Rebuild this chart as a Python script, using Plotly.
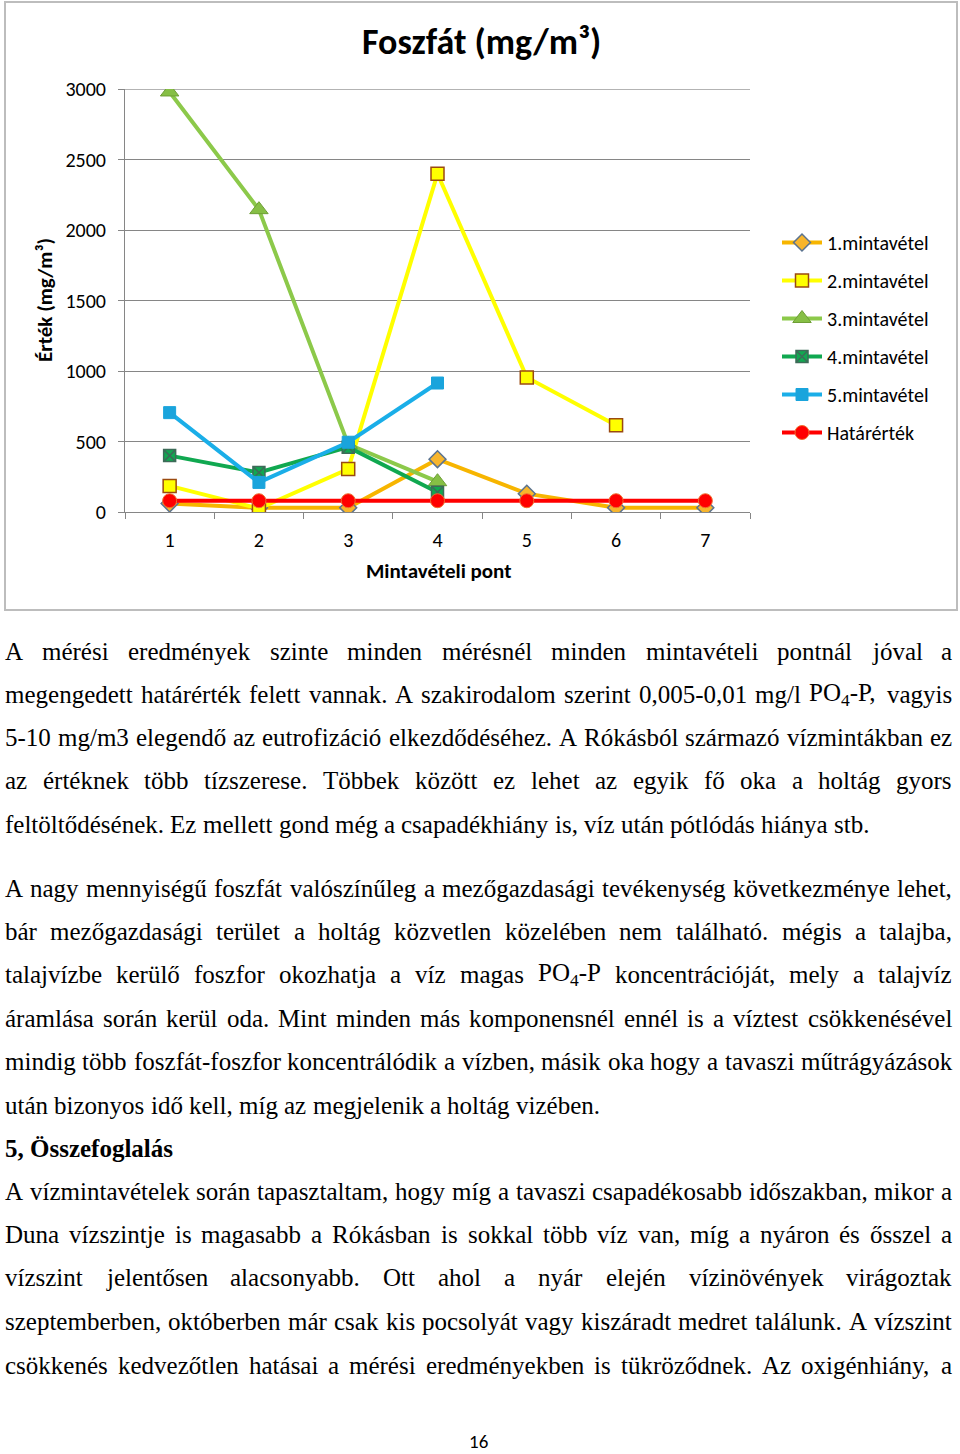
import plotly.graph_objects as go

# ---------------- data ----------------
categories = ["1", "2", "3", "4", "5", "6", "7"]
s1 = [60, 30, 30, 375, 130, 30, 30]
s2 = [185, 25, 305, 2400, 955, 615, None]
s3 = [2980, 2145, 480, 215, None, None, None]
s4 = [400, 280, 460, 140, None, None, None]
s5 = [705, 210, 495, 915, None, None, None]
limit = [80, 80, 80, 80, 80, 80, 80]
series_names = ["1.mintavétel", "2.mintavétel", "3.mintavétel",
                "4.mintavétel", "5.mintavétel", "Határérték"]
y_ticks = [0, 500, 1000, 1500, 2000, 2500, 3000]

title_text = "Foszfát (mg/m³)"
y_title = "Érték (mg/m³)"
x_title = "Mintavételi pont"

para1 = [
    ("A mérési eredmények szinte minden mérésnél minden mintavételi pontnál jóval a", True),
    ("megengedett határérték felett vannak. A szakirodalom szerint 0,005-0,01 mg/l PO<sub>4</sub>-P, vagyis", True),
    ("5-10 mg/m3 elegendő az eutrofizáció elkezdődéséhez. A Rókásból származó vízmintákban ez", True),
    ("az értéknek több tízszerese. Többek között ez lehet az egyik fő oka a holtág gyors", True),
    ("feltöltődésének. Ez mellett gond még a csapadékhiány is, víz után pótlódás hiánya stb.", False),
]
para2 = [
    ("A nagy mennyiségű foszfát valószínűleg a mezőgazdasági tevékenység következménye lehet,", True),
    ("bár mezőgazdasági terület a holtág közvetlen közelében nem található. mégis a talajba,", True),
    ("talajvízbe kerülő foszfor okozhatja a víz magas PO<sub>4</sub>-P koncentrációját, mely a talajvíz", True),
    ("áramlása során kerül oda. Mint minden más komponensnél ennél is a víztest csökkenésével", True),
    ("mindig több foszfát-foszfor koncentrálódik a vízben, másik oka hogy a tavaszi műtrágyázások", True),
    ("után bizonyos idő kell, míg az megjelenik a holtág vizében.", False),
]
heading = "5, Összefoglalás"
para3 = [
    ("A vízmintavételek során tapasztaltam, hogy míg a tavaszi csapadékosabb időszakban, mikor a", True),
    ("Duna vízszintje is magasabb a Rókásban is sokkal több víz van, míg a nyáron és ősszel a", True),
    ("vízszint jelentősen alacsonyabb. Ott ahol a nyár elején vízinövények virágoztak", True),
    ("szeptemberben, októberben már csak kis pocsolyát vagy kiszáradt medret találunk. A vízszint", True),
    ("csökkenés kedvezőtlen hatásai a mérési eredményekben is tükröződnek. Az oxigénhiány, a", True),
]
page_number = "16"

# ---------------- page geometry ----------------
W, H = 960, 1454
ML, MR, MT, MB = 125, 210, 89, 942
PW = W - ML - MR
PH = H - MT - MB


def px_x(px):
    return (px - ML) / PW


def px_y(py):
    return (H - MB - py) / PH


# ---------------- figure ----------------
fig = go.Figure()

styles = [
    dict(line=dict(color="#F7B500", width=4),
         marker=dict(symbol="diamond", size=13, color="#F7B52C",
                     line=dict(color="#5A7390", width=1.5))),
    dict(line=dict(color="#FFFF00", width=4),
         marker=dict(symbol="square", size=13, color="#FFFF00",
                     line=dict(color="#9A4A10", width=1.5))),
    dict(line=dict(color="#8CC94A", width=4),
         marker=dict(symbol="triangle-up", size=16, color="#86BF45",
                     line=dict(color="#6E9E35", width=1))),
    dict(line=dict(color="#10A850", width=4),
         marker=dict(symbol="square-x", size=12, color="#10A850",
                     line=dict(color="#3D6B58", width=1.5))),
    dict(line=dict(color="#1AAEE8", width=4),
         marker=dict(symbol="square", size=12, color="#1AA4DC",
                     line=dict(color="#1AA4DC", width=1))),
    dict(line=dict(color="#FF0000", width=4),
         marker=dict(symbol="circle", size=14, color="#FF0000",
                     line=dict(color="#F07030", width=1))),
]

for i, (name, vals) in enumerate(zip(series_names, [s1, s2, s3, s4, s5, limit])):
    fig.add_trace(go.Scatter(
        x=categories, y=vals, name=name, mode="lines+markers",
        legendgroup="g%d" % i, connectgaps=False, **styles[i]))

chart_font = "Carlito, Lato, sans-serif"
serif = "Liberation Serif, Times New Roman, serif"

fig.update_layout(
    width=W, height=H, autosize=False,
    margin=dict(l=ML, r=MR, t=MT, b=MB, pad=0),
    paper_bgcolor="white", plot_bgcolor="white",
    showlegend=True,
    legend=dict(x=px_x(777), y=px_y(223), xanchor="left", yanchor="top",
                font=dict(family=chart_font, size=20, color="#000000"),
                tracegroupgap=9, bgcolor="rgba(0,0,0,0)", itemwidth=40),
    xaxis=dict(type="category", categoryorder="array", categoryarray=categories,
               tickson="boundaries", ticks="outside", ticklen=6, tickcolor="#868686",
               showline=True, linecolor="#868686", linewidth=1, showgrid=False,
               tickfont=dict(family=chart_font, size=20, color="#000000"),
               ticklabelstandoff=10, range=[-0.5, 6.5], fixedrange=True),
    yaxis=dict(range=[0, 3001], tickvals=y_ticks, ticks="outside", ticklen=6,
               tickcolor="#868686", showline=True, linecolor="#868686", linewidth=1,
               showgrid=True, gridcolor="#868686", gridwidth=1, zeroline=False,
               tickfont=dict(family=chart_font, size=20, color="#000000"),
               ticklabelstandoff=8, fixedrange=True),
)

# top gridline (range edge) and chart frame
fig.add_shape(type="line", xref="paper", yref="y", x0=0, x1=1,
              y0=y_ticks[-1], y1=y_ticks[-1],
              line=dict(color="#868686", width=1), layer="below")
fig.add_shape(type="rect", xref="paper", yref="paper",
              x0=px_x(5), x1=px_x(957), y0=px_y(610), y1=px_y(2),
              line=dict(color="#BDBDBD", width=2), fillcolor="rgba(0,0,0,0)",
              layer="below")

ann = []
ann.append(dict(text="<b>%s</b>" % title_text, x=px_x(481), y=px_y(42),
                font=dict(family=chart_font, size=36, color="#000000")))
ann.append(dict(text="<b>%s</b>" % y_title, x=px_x(45), y=px_y(300), textangle=-90,
                font=dict(family=chart_font, size=21, color="#000000")))
ann.append(dict(text="<b>%s</b>" % x_title, x=px_x(438), y=px_y(571),
                font=dict(family=chart_font, size=21, color="#000000")))

# ---------------- body text (justified) ----------------
TW = {' ': 250, ',': 250, '-': 333, '.': 250, '/': 278, ':': 278,
      'A': 722, 'B': 667, 'C': 667, 'D': 722, 'E': 611, 'F': 556, 'G': 722, 'H': 722,
      'I': 333, 'J': 389, 'K': 722, 'L': 611, 'M': 889, 'N': 722, 'O': 722, 'P': 556,
      'Q': 722, 'R': 667, 'S': 556, 'T': 611, 'U': 722, 'V': 722, 'W': 944, 'X': 722,
      'Y': 722, 'Z': 611,
      'a': 444, 'b': 500, 'c': 444, 'd': 500, 'e': 444, 'f': 333, 'g': 500, 'h': 500,
      'i': 278, 'j': 278, 'k': 500, 'l': 278, 'm': 778, 'n': 500, 'o': 500, 'p': 500,
      'q': 500, 'r': 333, 's': 389, 't': 278, 'u': 500, 'v': 500, 'w': 722, 'x': 500,
      'y': 500, 'z': 444}
ACC = {'á': 'a', 'é': 'e', 'í': 'i', 'ó': 'o', 'ö': 'o', 'ő': 'o', 'ú': 'u', 'ü': 'u',
       'ű': 'u', 'Á': 'A', 'É': 'E', 'Í': 'I', 'Ó': 'O', 'Ö': 'O', 'Ő': 'O', 'Ú': 'U',
       'Ü': 'U', 'Ű': 'U'}


def word_units(word):
    total = 0.0
    sub = False
    i = 0
    while i < len(word):
        if word.startswith("<sub>", i):
            sub = True
            i += 5
            continue
        if word.startswith("</sub>", i):
            sub = False
            i += 6
            continue
        ch = ACC.get(word[i], word[i])
        w = 500 if ch.isdigit() else TW.get(ch, 500)
        total += w * (0.7 if sub else 1.0)
        i += 1
    return total


LEFT, RIGHT = 5, 952
all_lines = para1 + para2 + para3
fits = []
for txt, just in all_lines:
    words = txt.split(" ")
    units = sum(word_units(w) for w in words) + 250 * (len(words) - 1)
    fits.append((RIGHT - LEFT) * 1000.0 / units)
FS = min(25.0, min(fits))

body_rows = ([(l, 651 + k * 43.3) for k, l in enumerate(para1)] +
             [(l, 888 + k * 43.4) for k, l in enumerate(para2)] +
             [(l, 1191 + k * 43.5) for k, l in enumerate(para3)])

for (txt, just), yc in body_rows:
    words = txt.split(" ")
    widths = [word_units(w) * FS / 1000.0 for w in words]
    if just and len(words) > 1:
        gap = (RIGHT - LEFT - sum(widths)) / (len(words) - 1)
    else:
        gap = 250 * FS / 1000.0
    x = LEFT
    for w, wd in zip(words, widths):
        ann.append(dict(text=w, x=px_x(x - 2), y=px_y(yc), xanchor="left",
                        yanchor="middle",
                        font=dict(family=serif, size=FS, color="#000000")))
        x += wd + gap

ann.append(dict(text="<b>%s</b>" % heading, x=px_x(3), y=px_y(1148),
                xanchor="left", font=dict(family=serif, size=FS, color="#000000")))
ann.append(dict(text=page_number, x=px_x(478), y=px_y(1441),
                font=dict(family=chart_font, size=19, color="#000000")))

for a in ann:
    a.setdefault("xref", "paper")
    a.setdefault("yref", "paper")
    a.setdefault("showarrow", False)
    a.setdefault("xanchor", "center")
    a.setdefault("yanchor", "middle")
fig.update_layout(annotations=ann)

fig.write_html("out.html",
               config={"displayModeBar": False},
               post_script="document.body.style.margin='0px';"
                           "document.body.style.padding='0px';"
                           "document.body.style.overflow='hidden';")
